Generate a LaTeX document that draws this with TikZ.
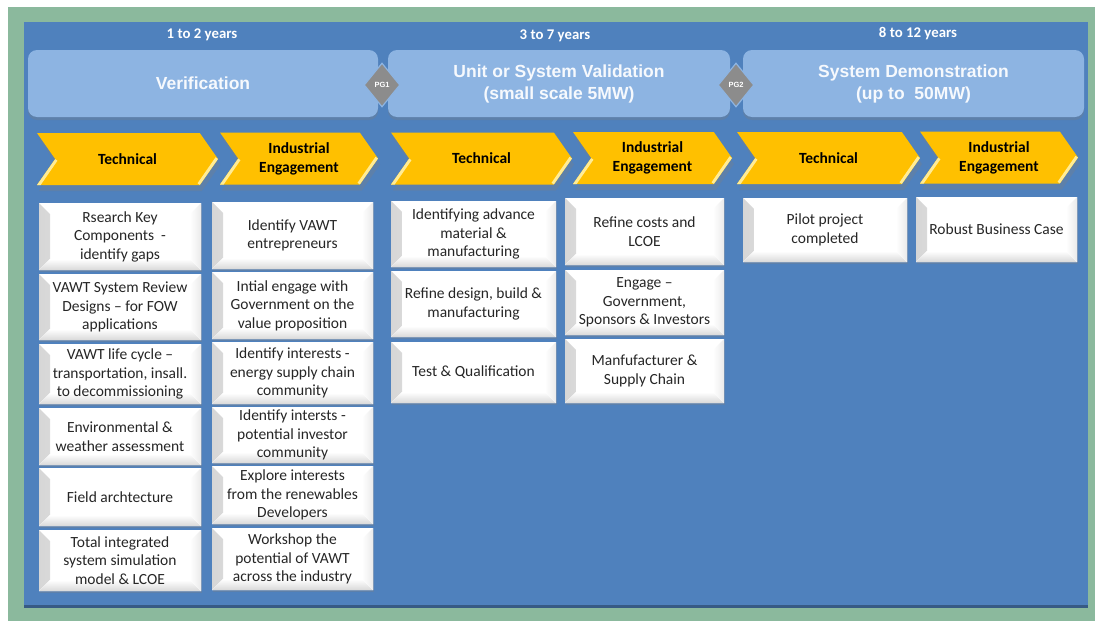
\documentclass[tikz,border=0pt]{standalone}
\usepackage{fontspec}
\setmainfont{Carlito}
\newfontfamily\headfont{Liberation Sans}
\usetikzlibrary{shapes.geometric,shapes.symbols,shadows}

\definecolor{framegreen}{RGB}{139,185,157}
\definecolor{boardblue}{RGB}{79,129,189}
\definecolor{phaseblue}{RGB}{141,180,226}
\definecolor{chevgold}{RGB}{255,192,0}
\definecolor{chevlight}{RGB}{255,236,150}
\definecolor{gategray}{RGB}{140,140,140}

\begin{document}
\begin{tikzpicture}[x=1pt,y=-1pt,
  years/.style={text=white,font=\fontsize{14.8}{16}\selectfont\bfseries},
  phase/.style={fill=phaseblue, rounded corners=9pt, minimum height=67pt,
    text=white!92!phaseblue, align=center,
    font=\headfont\fontsize{17.5}{22}\selectfont\bfseries,
    drop shadow={opacity=0.3, shadow xshift=0pt, shadow yshift=-3pt}},
  gate/.style={diamond, fill=gategray, draw=phaseblue, line width=1.2pt,
    minimum width=36pt, minimum height=44pt, inner sep=0pt, text=white,
    font=\headfont\fontsize{7.5}{8}\selectfont\bfseries},
  stage/.style={signal, signal to=east, signal from=west, signal pointer angle=110,
    fill=chevgold, minimum height=52pt, inner sep=0pt, align=center,
    font=\fontsize{15.5}{19}\selectfont\bfseries,
    drop shadow={opacity=0.3, shadow xshift=2pt, shadow yshift=-6pt},
    path picture={
      \draw[line width=6pt, chevlight] (path picture bounding box.south west)
        -- ([xshift=18pt]path picture bounding box.west);
      \draw[line width=6pt, chevlight] (path picture bounding box.east)
        -- ([xshift=-18pt]path picture bounding box.south east);
    }},
  task/.style={fill=white, inner sep=2pt, align=center, text=black!85,
    font=\fontsize{15.5}{18.5}\selectfont,
    drop shadow={opacity=0.3, shadow xshift=1pt, shadow yshift=-2pt},
    path picture={
      \fill[left color=black!16, right color=white]
        (path picture bounding box.south west) -- (path picture bounding box.north west)
        -- ([shift={(11pt,-11pt)}]path picture bounding box.north west)
        -- ([shift={(11pt,11pt)}]path picture bounding box.south west) -- cycle;
      \fill[top color=white, bottom color=black!15]
        (path picture bounding box.south west) -- (path picture bounding box.south east)
        -- ([shift={(-11pt,11pt)}]path picture bounding box.south east)
        -- ([shift={(11pt,11pt)}]path picture bounding box.south west) -- cycle;
      \fill[left color=white, right color=black!8]
        (path picture bounding box.south east) -- (path picture bounding box.north east)
        -- ([shift={(-11pt,-11pt)}]path picture bounding box.north east)
        -- ([shift={(-11pt,11pt)}]path picture bounding box.south east) -- cycle;
    }},
  colA/.style={task, minimum width=162pt},
  colB/.style={task, minimum width=161pt},
  colC/.style={task, minimum width=165pt},
  colD/.style={task, minimum width=159pt},
  colE/.style={task, minimum width=164pt},
  colF/.style={task, minimum width=161pt}]
\useasboundingbox (0,0) rectangle (1095,621);
% frame and board
\fill[white] (0,0) rectangle (1095,621);
\fill[framegreen] (8,7) rectangle (1095,621);
\fill[boardblue!70!black] (24,24) rectangle (1088,608);
\fill[boardblue] (24,22) rectangle (1088,605);

% time spans
\node[years] (y1) at (202,35) {1 to 2 years};
\node[years] (y2) at (555,36) {3 to 7 years};
\node[years] (y3) at (918,34) {8 to 12 years};

% phases and gates
\node[phase, minimum width=350pt] (verif) at (203,83.5) {Verification};
\node[phase, minimum width=342pt] (valid) at (559,83.5) {Unit or System Validation\\(small scale 5MW)};
\node[phase, minimum width=341pt] (demo) at (913.5,83.5) {System Demonstration\\(up to\ \ 50MW)};
\node[gate] (pg1) at (382,85) {PG1};
\node[gate] (pg2) at (736,85) {PG2};

% streams
\node[stage, minimum width=181pt] (tech1) at (127.5,159) {Technical};
\node[stage, minimum width=158pt] (ind1) at (299,158.5) {Industrial\\Engagement};
\node[stage, minimum width=181pt] (tech2) at (481.5,158.5) {Technical};
\node[stage, minimum width=159pt] (ind2) at (652.5,158) {Industrial\\Engagement};
\node[stage, minimum width=183pt] (tech3) at (828.5,158) {Technical};
\node[stage, minimum width=158pt] (ind3) at (999,157.5) {Industrial\\Engagement};

% verification - technical
\node[colA, minimum height=67pt] (va1) at (120,236.5) {Rsearch Key\\Components\ \ -\\identify gaps};
\node[colA, minimum height=66pt] (va2) at (120,307) {VAWT System Review\\Designs -- for FOW\\applications};
\node[colA, minimum height=60pt] (va3) at (120,374) {VAWT life cycle --\\transportation, insall.\\to decommissioning};
\node[colA, minimum height=57pt] (va4) at (120,436.5) {Environmental \&\\weather assessment};
\node[colA, minimum height=58pt] (va5) at (120,497) {Field archtecture};
\node[colA, minimum height=61pt] (va6) at (120,560.5) {Total integrated\\system simulation\\model \& LCOE};

% verification - industrial
\node[colB, minimum height=67pt] (vb1) at (292.5,235.5) {Identify VAWT\\entrepreneurs};
\node[colB, minimum height=67pt] (vb2) at (292.5,305.5) {Intial engage with\\Government on the\\value proposition};
\node[colB, minimum height=62pt] (vb3) at (292.5,373) {Identify interests -\\energy supply chain\\community};
\node[colB, minimum height=56pt] (vb4) at (292.5,435) {Identify intersts -\\potential investor\\community};
\node[colB, minimum height=58pt] (vb5) at (292.5,495) {Explore interests\\from the renewables\\Developers};
\node[colB, minimum height=62pt] (vb6) at (292.5,559) {Workshop the\\potential of VAWT\\across the industry};

% validation
\node[colC, minimum height=66pt] (uc1) at (473.5,234) {Identifying advance\\material \&\\manufacturing};
\node[colC, minimum height=66pt] (uc2) at (473.5,304) {Refine design, build \&\\manufacturing};
\node[colC, minimum height=61pt] (uc3) at (473.5,372.5) {Test \& Qualification};
\node[colD, minimum height=67pt] (ud1) at (644.5,231.5) {Refine costs and\\LCOE};
\node[colD, minimum height=65pt] (ud2) at (644.5,302.5) {Engage --\\Government,\\Sponsors \& Investors};
\node[colD, minimum height=64pt] (ud3) at (644.5,371) {Manfufacturer \&\\Supply Chain};

% demonstration
\node[colE, minimum height=64pt] (de1) at (825,230) {Pilot project\\completed};
\node[colF, minimum height=65pt] (df1) at (996.5,229.5) {Robust Business Case};
\end{tikzpicture}
\end{document}
